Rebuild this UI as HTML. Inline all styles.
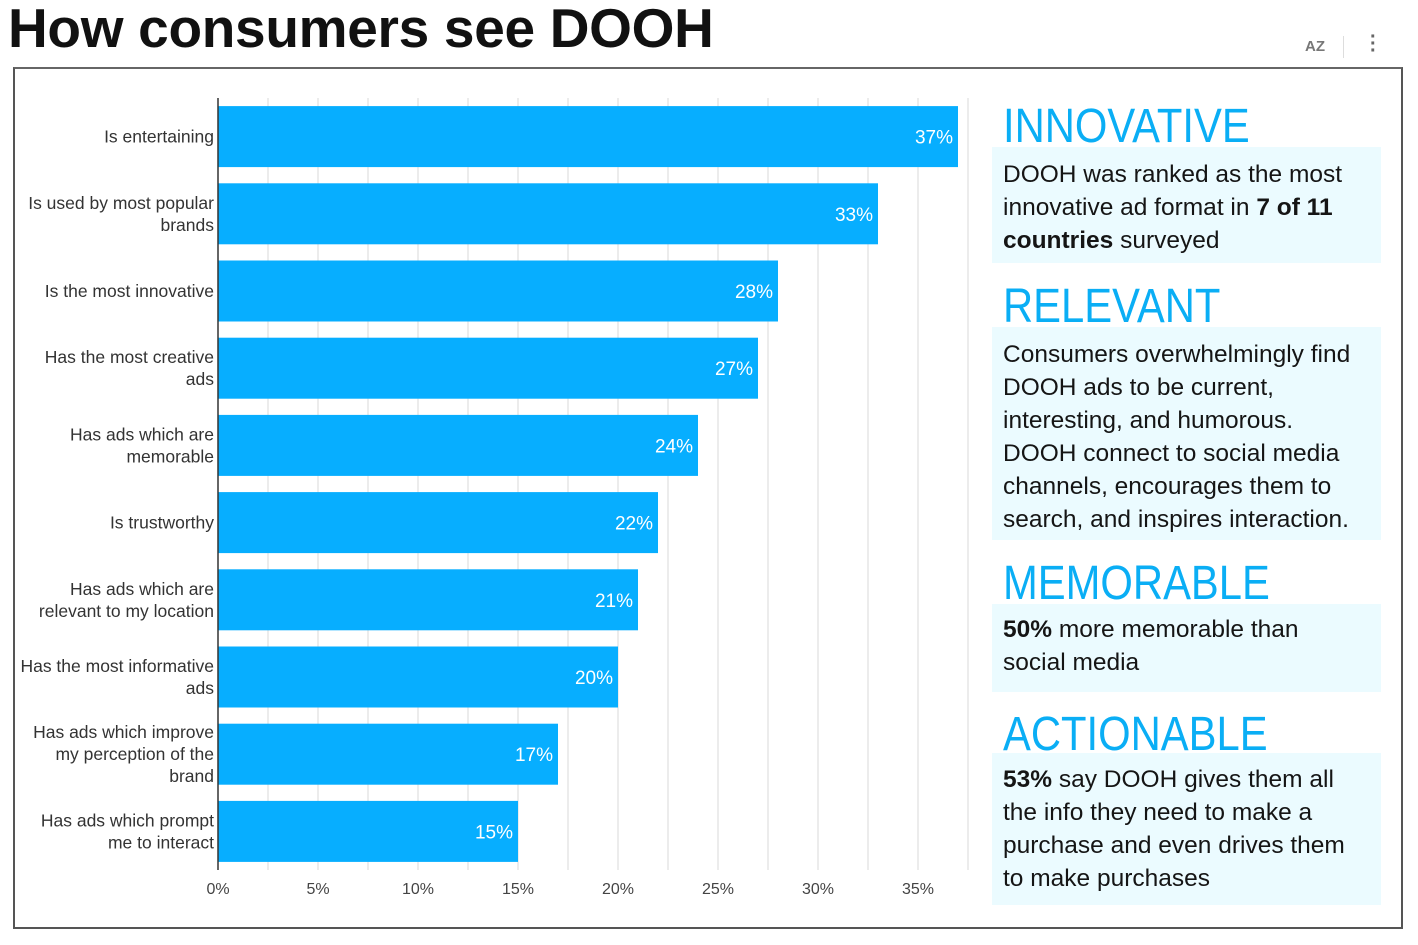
<!DOCTYPE html>
<html><head><meta charset="utf-8">
<style>
body{margin:0;width:1418px;height:945px;background:#fff;overflow:hidden;font-family:"Liberation Sans",sans-serif;position:relative}
#title{position:absolute;left:8px;top:-4px;font-size:55px;font-weight:bold;color:#111;letter-spacing:-0.3px;white-space:nowrap}
#frame{position:absolute;left:13px;top:67px;width:1386px;height:858px;border:2px solid #555;border-top-color:#666}
.h{position:absolute;left:1003px;font-size:48px;color:#0aaef5;white-space:nowrap;transform-origin:0 0;transform:scaleX(0.87)}
.box{position:absolute;left:992px;width:378px;background:#ebfbff;padding:0 0 0 11px;font-size:24.5px;line-height:33px;color:#151515;box-sizing:content-box;white-space:nowrap}
.box b{font-weight:bold}
#icons{position:absolute;left:1300px;top:34px;color:#666;font-size:16px}
</style></head><body>
<div id="title">How consumers see DOOH</div>
<div id="icons">
<span style="position:absolute;left:5px;top:4px;font-size:15px;font-weight:bold;color:#777">AZ</span>
<span style="position:absolute;left:43px;top:2px;width:1px;height:22px;background:#ddd"></span>
<span style="position:absolute;left:70px;top:0px;font-size:20px;font-weight:bold;color:#666;line-height:7px">·<br>·<br>·</span>
</div>
<div id="frame"></div>
<svg id="chart" width="1418" height="945" style="position:absolute;left:0;top:0"></svg>

<div class="h" style="top:99px">INNOVATIVE</div>
<div class="box" style="top:147px;padding-top:11px;height:105px">DOOH was ranked as the most<br>innovative ad format in <b>7 of 11<br>countries</b> surveyed</div>
<div class="h" style="top:279px">RELEVANT</div>
<div class="box" style="top:327px;padding-top:11px;height:202px">Consumers overwhelmingly find<br>DOOH ads to be current,<br>interesting, and humorous.<br>DOOH connect to social media<br>channels, encourages them to<br>search, and inspires interaction.</div>
<div class="h" style="top:556px">MEMORABLE</div>
<div class="box" style="top:604px;padding-top:9px;height:79px"><b>50%</b> more memorable than<br>social media</div>
<div class="h" style="top:707px">ACTIONABLE</div>
<div class="box" style="top:753px;padding-top:10px;height:142px"><b>53%</b> say DOOH gives them all<br>the info they need to make a<br>purchase and even drives them<br>to make purchases</div>

<script>
const categories=[["Is entertaining"],["Is used by most popular","brands"],["Is the most innovative"],["Has the most creative","ads"],["Has ads which are","memorable"],["Is trustworthy"],["Has ads which are","relevant to my location"],["Has the most informative","ads"],["Has ads which improve","my perception of the","brand"],["Has ads which prompt","me to interact"]];
const values=[37,33,28,27,24,22,21,20,17,15];
const tickValues=[0,5,10,15,20,25,30,35];
const tickLabels=["0%","5%","10%","15%","20%","25%","30%","35%"];
const gridValues=[2.5,5,7.5,10,12.5,15,17.5,20,22.5,25,27.5,30,32.5,35,37.5];

const NS="http://www.w3.org/2000/svg";
const svg=document.getElementById('chart');
const x0=218,pxPer=20,top0=98,band=77.2,barH=61;
const xs=v=>x0+v*pxPer;
const yc=i=>top0+band*i+band/2;
function mk(t,a){const e=document.createElementNS(NS,t);for(const k in a)e.setAttribute(k,a[k]);svg.appendChild(e);return e;}
gridValues.forEach(v=>{
  const l=mk('line',{x1:xs(v),x2:xs(v),y1:98,y2:870,stroke:'#d9d9d9','stroke-width':1});
  
  
});
values.forEach((v,i)=>{
  const r=mk('rect',{x:x0,y:yc(i)-barH/2,width:xs(v)-x0,height:barH,fill:'#07aeff'});
  
  
  const t=mk('text',{x:xs(v)-5,y:yc(i)+7,'text-anchor':'end',fill:'#fff','font-size':19,'font-family':'Liberation Sans, sans-serif'});
  t.textContent=v+'%';
  
  
  const lines=categories[i];
  const lh=22,start=yc(i)-(lines.length-1)*lh/2+6;
  lines.forEach((s,j)=>{
    const c=mk('text',{x:214,y:start+j*lh,'text-anchor':'end',fill:'#333','font-size':17.5,'font-family':'Liberation Sans, sans-serif'});
    c.textContent=s;
    
    
  });
});
const ax=mk('line',{x1:x0,x2:x0,y1:98,y2:870,stroke:'#333','stroke-width':1.5});


tickValues.forEach((v,i)=>{
  const t=mk('text',{x:xs(v),y:894,'text-anchor':'middle',fill:'#444','font-size':16,'font-family':'Liberation Sans, sans-serif'});
  t.textContent=tickLabels[i];
  
  
});
</script>
</body></html>
